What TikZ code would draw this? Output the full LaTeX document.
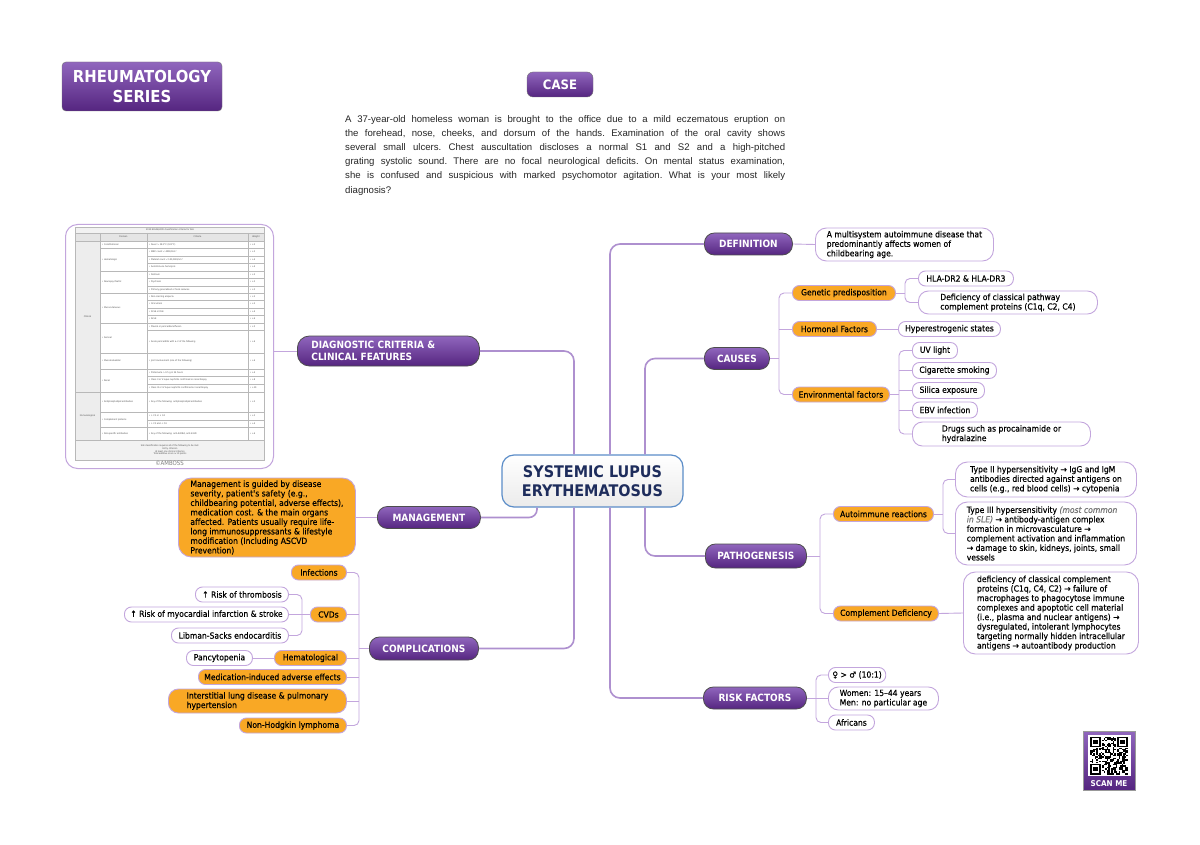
\documentclass[tikz,border=0pt]{standalone}
\usepackage{fontspec}
\setmainfont{DejaVu Sans}[FakeStretch=0.9]
\newfontfamily\mapfont{DejaVu Sans}[FakeStretch=0.9, FakeBold=0.35]
\newfontfamily\casefont{Liberation Sans}
\usepackage{xcolor}
\definecolor{slpurple}{HTML}{9066BD}
\definecolor{sldeep}{HTML}{552580}
\definecolor{slorange}{HTML}{F9A825}
\definecolor{sllilac}{HTML}{C3A6DD}
\definecolor{slline}{HTML}{AE90CF}
\definecolor{slnavy}{HTML}{1E2D5C}
\definecolor{slsteel}{HTML}{5B8DC8}
\definecolor{slgray}{HTML}{4D4D4D}
\usetikzlibrary{positioning,calc}

\begin{document}
\begin{tikzpicture}[x=1pt, y=-1pt,
  cat/.style={draw=slgray, line width=0.8pt, top color=slpurple, bottom color=sldeep,
              rounded corners=10pt, text=white, font=\fontsize{10}{11.5}\selectfont\bfseries,
              inner xsep=6pt, inner ysep=0pt, minimum height=22pt, anchor=west},
  leaf/.style={draw=sllilac, line width=0.9pt, fill=white, rounded corners=7pt,
               font=\mapfont\fontsize{8.5}{9.5}\selectfont, inner xsep=4pt, inner ysep=0pt,
               minimum height=15pt, anchor=west, align=left},
  ora/.style={leaf, fill=slorange},
  trunk/.style={draw=slline, line width=1.6pt, rounded corners=10pt},
  twig/.style={draw=sllilac, line width=0.9pt, rounded corners=5pt},
  tabline/.style={draw=black!28, line width=0.3pt},
  tabtxt/.style={font=\fontsize{2.3}{2.8}\selectfont, text=black!70, inner sep=0pt, align=left},
]
\fill[white] (0,0) rectangle (1200,845);
\useasboundingbox (0,0) rectangle (1200,845);

% header and case
\node[draw=black!55, top color=slpurple, bottom color=sldeep, rounded corners=4pt,
      minimum width=160pt, minimum height=49pt, text=white, align=center,
      font=\fontsize{16.5}{20}\selectfont\bfseries] (series) at (142,86.5) {RHEUMATOLOGY\\SERIES};
\node[draw=black!55, top color=slpurple, bottom color=sldeep, rounded corners=6pt,
      minimum width=66pt, minimum height=25pt, text=white,
      font=\fontsize{13}{14}\selectfont\bfseries] (case) at (560,84.5) {CASE};
\node[anchor=north west, inner sep=0pt, text width=440pt, align=justify, text=black!85,
      font=\casefont\fontsize{9.6}{14.2}\selectfont\frenchspacing] (casetxt) at (345,115)
  {A 37-year-old homeless woman is brought to the office due to a mild eczematous eruption on\linebreak
   the forehead, nose, cheeks, and dorsum of the hands. Examination of the oral cavity shows\linebreak
   several small ulcers. Chest auscultation discloses a normal S1 and S2 and a high-pitched\linebreak
   grating systolic sound. There are no focal neurological deficits. On mental status examination,\linebreak
   she is confused and suspicious with marked psychomotor agitation. What is your most likely\linebreak
   diagnosis?};

% centre
\node[draw=slsteel, line width=1.2pt, top color=white, bottom color=black!8, rounded corners=12pt,
      minimum width=181pt, minimum height=52pt, align=center, text=slnavy,
      font=\fontsize{16}{19}\selectfont\bfseries] (sle) at (592.5,481) {SYSTEMIC LUPUS\\ERYTHEMATOSUS};
\coordinate (n1) at ([xshift=-18.5pt]sle.north);
\coordinate (n2) at ([xshift=17.5pt]sle.north);
\coordinate (n3) at ([xshift=52.5pt]sle.north);
\coordinate (s0) at ([xshift=-55.5pt]sle.south);
\coordinate (s1) at ([xshift=-18.5pt]sle.south);
\coordinate (s2) at ([xshift=17.5pt]sle.south);
\coordinate (s3) at ([xshift=52.5pt]sle.south);

% main branches
\node[cat, minimum width=182pt, minimum height=30pt, rounded corners=12pt, text width=154pt,
      inner xsep=14pt, align=left] (diag) at (297,351) {DIAGNOSTIC CRITERIA \&\\CLINICAL FEATURES};
\node[cat, minimum width=88pt] (defn) at (704,244) {DEFINITION};
\node[cat, minimum width=65pt] (causes) at (704,358.5) {CAUSES};
\node[cat, minimum width=101pt, minimum height=24pt] (patho) at (705,556) {PATHOGENESIS};
\node[cat, minimum width=103pt] (risk) at (703,698) {RISK FACTORS};
\node[cat, minimum width=103pt] (mgmt) at (377,517.5) {MANAGEMENT};
\node[cat, minimum width=109pt, minimum height=23pt] (compl) at (369,648.5) {COMPLICATIONS};

\draw[trunk] (diag.east) -| (n1);
\draw[trunk] (defn.west) -| (n2);
\draw[trunk] (causes.west) -| (n3);
\draw[trunk, rounded corners=8pt] (mgmt.east) -| (s0);
\draw[trunk] (compl.east) -| (s1);
\draw[trunk] (risk.west) -| (s2);
\draw[trunk] (patho.west) -| (s3);

% definition
\node[leaf, minimum width=178pt, minimum height=33pt, rounded corners=11pt] (deftxt) at (815,244.5)
  {A multisystem autoimmune disease that\\predominantly affects women of\\childbearing age.};
\draw[twig] (defn.east) -- (deftxt.west);

% causes
\node[ora, minimum width=103pt] (gen) at (792,293) {Genetic predisposition};
\node[ora, minimum width=84pt] (hor) at (792,329) {Hormonal Factors};
\node[ora, minimum width=97pt] (env) at (792,394.5) {Environmental factors};
\node[leaf, minimum width=95pt] (hla) at (918,278.5) {HLA-DR2 \& HLA-DR3};
\node[leaf, minimum width=179pt, minimum height=23pt, rounded corners=10pt] (defc) at (918,302.5)
  {Deficiency of classical pathway\\complement proteins (C1q, C2, C4)};
\node[leaf, minimum width=102pt] (hyper) at (898,329) {Hyperestrogenic states};
\node[leaf, minimum width=45pt, minimum height=16pt] (uv) at (912,350.5) {UV light};
\node[leaf, minimum width=84pt, minimum height=16pt] (cig) at (912,370.5) {Cigarette smoking};
\node[leaf, minimum width=72pt, minimum height=16pt] (sil) at (912,390.5) {Silica exposure};
\node[leaf, minimum width=65pt, minimum height=16pt] (ebv) at (912,410) {EBV infection};
\node[leaf, minimum width=178pt, minimum height=24pt, rounded corners=10pt] (drug) at (912,434)
  {Drugs such as procainamide or\\hydralazine};

\coordinate (cbus) at (779,358.5);
\draw[twig] (causes.east) -- (cbus);
\draw[twig] (gen.west) -| (cbus) |- (env.west);
\draw[twig] (hor.west) -- (hor.west -| cbus);
\coordinate (gbus) at (905,293);
\draw[twig] (gen.east) -- (gbus);
\draw[twig] (hla.west) -| (gbus) |- (defc.west);
\draw[twig] (hor.east) -- (hyper.west);
\coordinate (ebus) at (899,394.5);
\draw[twig] (env.east) -- (ebus);
\draw[twig] (uv.west) -| (ebus) |- (drug.west);
\foreach \n in {cig,sil,ebv} \draw[twig] (\n.west) -- (\n.west -| ebus);

% pathogenesis
\node[ora, minimum width=100pt] (auto) at (833,514) {Autoimmune reactions};
\node[ora, minimum width=105pt] (cdef) at (833,613.5) {Complement Deficiency};
\node[leaf, minimum width=181pt, minimum height=35pt, rounded corners=12pt] (t2) at (955,479.5)
  {Type II hypersensitivity → IgG and IgM\\antibodies directed against antigens on\\cells (e.g., red blood cells) → cytopenia};
\node[leaf, minimum width=181pt, minimum height=63pt, rounded corners=12pt] (t3) at (955,533.5)
  {Type III hypersensitivity {\color{black!55}\itshape (most common}\\{\color{black!55}\itshape in SLE)} → antibody-antigen complex\\formation in microvasculature →\\complement activation and inflammation\\→ damage to skin, kidneys, joints, small\\vessels};
\node[leaf, minimum width=175pt, minimum height=82pt, rounded corners=12pt] (cdtxt) at (963,613)
  {deficiency of classical complement\\proteins (C1q, C4, C2) → failure of\\macrophages to phagocytose immune\\complexes and apoptotic cell material\\(i.e., plasma and nuclear antigens) →\\dysregulated, intolerant lymphocytes\\targeting normally hidden intracellular\\antigens → autoantibody production};

\coordinate (pbus) at (820,556);
\draw[twig] (patho.east) -- (pbus);
\draw[twig] (auto.west) -| (pbus) |- (cdef.west);
\coordinate (abus) at (943,514);
\draw[twig] (auto.east) -- (abus);
\draw[twig] (t2.west) -| (abus) |- (t3.west);
\draw[twig] (cdef.east) -- (cdtxt.west);

% risk factors
\node[leaf, minimum width=55pt] (sex) at (828,675) {♀ > ♂ (10:1)};
\node[leaf, minimum width=110pt, minimum height=23pt, rounded corners=10pt] (age) at (828,698.5)
  {Women: 15–44 years\\Men: no particular age};
\node[leaf, minimum width=46pt] (afr) at (828,722.5) {Africans};
\coordinate (rbus) at (816,698);
\draw[twig] (risk.east) -- (rbus);
\draw[twig] (sex.west) -| (rbus) |- (afr.west);
\draw[twig] (age.west) -- (age.west -| rbus);

% management
\node[ora, minimum width=177pt, minimum height=79pt, rounded corners=13pt] (mgtxt) at (178,517.5)
  {Management is guided by disease\\severity, patient's safety (e.g.,\\childbearing potential, adverse effects),\\medication cost. \& the main organs\\affected. Patients usually require life-\\long immunosuppressants \& lifestyle\\modification (Including ASCVD\\Prevention)};
\draw[twig] (mgmt.west) -- (mgtxt.east);

% complications
\node[ora, minimum width=55pt] (inf) at (291,572.5) {Infections};
\node[ora, minimum width=36pt] (cvd) at (310,614.5) {CVDs};
\node[ora, minimum width=72pt] (hem) at (274,658) {Hematological};
\node[ora, minimum width=148pt] (med) at (198,677) {Medication-induced adverse effects};
\node[ora, minimum width=178pt, minimum height=24pt, rounded corners=10pt] (ild) at (168,701)
  {Interstitial lung disease \& pulmonary\\hypertension};
\node[ora, minimum width=107pt] (nhl) at (239,725.5) {Non-Hodgkin lymphoma};
\node[leaf, minimum width=93pt] (thr) at (195,594.5) {↑ Risk of thrombosis};
\node[leaf, minimum width=164pt] (mi) at (124,614.5) {↑ Risk of myocardial infarction \& stroke};
\node[leaf, minimum width=117pt] (lib) at (171,635.5) {Libman-Sacks endocarditis};
\node[leaf, minimum width=66pt] (pan) at (186,658) {Pancytopenia};

\coordinate (kbus) at (359,648.5);
\draw[twig] (compl.west) -- (kbus);
\draw[twig] (inf.east) -| (kbus) |- (nhl.east);
\foreach \n in {cvd,hem,med,ild} \draw[twig] (\n.east) -- (\n.east -| kbus);
\coordinate (vbus) at (302,614.5);
\draw[twig] (cvd.west) -- (vbus);
\draw[twig] (thr.east) -| (vbus) |- (lib.east);
\draw[twig] (mi.east) -- (mi.east -| vbus);
\draw[twig] (pan.east) -- (hem.west);

% criteria table
\node[draw=sllilac, line width=1pt, rounded corners=12pt, minimum width=208pt, minimum height=244pt,
      anchor=north west] (crit) at (65,224) {};
\draw[twig] (crit.east |- diag.west) -- (diag.west);
\fill[black!5] (75,227) rectangle (264,233);
\fill[black!10] (75,233) rectangle (264,241);
\fill[black!7] (75,241) rectangle (100,440);
\fill[black!5] (75,440) rectangle (264,460);
\draw[tabline] (75,227) rectangle (264,460);
\draw[tabline] (75,233) -- (264,233) (75,241) -- (264,241) (75,392) -- (100,392) (75,440) -- (264,440);
\foreach \x in {100,147,248} \draw[tabline] (\x,233) -- (\x,440);
\node[tabtxt] (ttl) at (170,230) {2019 EULAR/ACR classification criteria for SLE};
\node[tabtxt] (hd1) at (123.5,237) {Domain};
\node[tabtxt] (hd2) at (197.5,237) {Criteria};
\node[tabtxt] (hd3) at (256,237) {Weight};
\node[tabtxt] (clin) at (87.5,316.5) {Clinical};
\node[tabtxt] (immu) at (87.5,416) {Immunological};
\foreach \ya/\yb/\dom in {241/248/Constitutional, 248/271/Hematologic, 271/293/Neuropsychiatric,
    293/323/Mucocutaneous, 323/353/Serosal, 353/369/Musculoskeletal, 369/392/Renal,
    392/412/{Antiphospholipid antibodies}, 412/427/{Complement proteins}, 427/440/{SLE-specific antibodies}}
{
  \draw[tabline] (100,\yb) -- (147,\yb);
  \node[tabtxt, anchor=west] (dm\ya) at (102,{(\ya+\yb)/2}) {• \dom};
}
\foreach \ya/\yb/\crt/\wt in {
    241/248/{Fever > 38.3°C (101°F)}/+2,
    248/256/{WBC count < 4000/mm³}/+3,
    256/263/{Platelet count < 100,000/mm³}/+4,
    263/271/{Autoimmune hemolysis}/+4,
    271/278/{Delirium}/+2,
    278/286/{Psychosis}/+3,
    286/293/{Primary generalized or focal seizures}/+5,
    293/300/{Non-scarring alopecia}/+2,
    300/308/{Oral ulcers}/+2,
    308/315/{SCLE or DLE}/+4,
    315/323/{ACLE}/+6,
    323/330/{Pleural or pericardial effusion}/+5,
    330/353/{Acute pericarditis with ≥ 2 of the following}/+6,
    353/369/{Joint involvement (one of the following)}/+6,
    369/376/{Proteinuria > 0.5 g in 24 hours}/+4,
    376/384/{Class II or V lupus nephritis confirmed on renal biopsy}/+8,
    384/392/{Class III or IV lupus nephritis confirmed on renal biopsy}/+10,
    392/412/{Any of the following: antiphospholipid antibodies}/+2,
    412/420/{↓ C3 or ↓ C4}/+3,
    420/427/{↓ C3 and ↓ C4}/+4,
    427/440/{Any of the following: anti-dsDNA, anti-Smith}/+6}
{
  \draw[tabline] (147,\yb) -- (264,\yb);
  \node[tabtxt, anchor=west] (cr\ya) at (149,{(\ya+\yb)/2}) {• \crt};
  \node[tabtxt, anchor=west] (wt\ya) at (250,{(\ya+\yb)/2}) {• \wt};
}
\node[tabtxt, align=center] (foot) at (170,450)
  {SLE classification requires all of the following to be met:\\Entry criterion\\At least one clinical criterion\\Total additive score ≥ 10 points};
\node[font=\fontsize{6}{7}\selectfont, text=black!50, inner sep=0pt] (amboss) at (169.5,463.5) {©AMBOSS};

% scan me
\node[draw=black!40, top color=slpurple, bottom color=sldeep, minimum width=52pt, minimum height=59pt,
      inner sep=0pt] (scan) at (1109,760.5) {};
\fill[white] (1087.5,735) rectangle (1130.5,776);
\pgfmathsetseed{11}
\foreach \i in {0,...,24}{
  \foreach \j in {0,...,24}{
    \pgfmathrandominteger{\qb}{0}{1}
    \ifnum\qb=1 \fill[black] (1090+\i*1.52,736.5+\j*1.52) rectangle ++(1.52,1.52); \fi
  }
}
\foreach \qx/\qy in {0/0, 18/0, 0/18}{
  \fill[white] (1090+\qx*1.52-1,736.5+\qy*1.52-1) rectangle ++(7*1.52+2,7*1.52+2);
  \fill[black] (1090+\qx*1.52,736.5+\qy*1.52) rectangle ++(7*1.52,7*1.52);
  \fill[white] (1090+\qx*1.52+1.52,736.5+\qy*1.52+1.52) rectangle ++(5*1.52,5*1.52);
  \fill[black] (1090+\qx*1.52+3.04,736.5+\qy*1.52+3.04) rectangle ++(3*1.52,3*1.52);
}
\node[text=white, font=\fontsize{8}{9}\selectfont\bfseries, inner sep=0pt] (scantxt) at (1109,783.5) {SCAN ME};
\end{tikzpicture}
\end{document}
